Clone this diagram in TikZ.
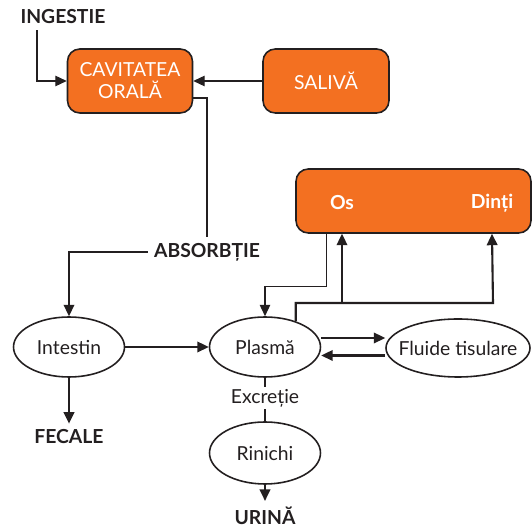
\documentclass[tikz,border=0pt]{standalone}
\usepackage{fontspec}
\setmainfont{Lato}
\usetikzlibrary{shapes.geometric,arrows.meta}
\definecolor{ink}{HTML}{231F20}
\definecolor{orangebox}{HTML}{F37021}
\tikzset{
	>={Triangle[length=6.5pt,width=6pt]},
	every node/.style={font=\fontsize{11}{12.5}\selectfont},
	obox/.style={draw=ink,line width=0.9pt,fill=orangebox,rounded corners=7pt,text=white,align=center,minimum width=2.5cm,minimum height=1.28cm},
	oval/.style={ellipse,draw=ink,line width=0.9pt,text=ink,minimum width=2.22cm,minimum height=1.2cm,inner sep=1pt},
	lbl/.style={text=ink,font=\fontsize{11}{12.5}\selectfont\bfseries},
	thinline/.style={draw=ink,line width=0.6pt},
	thickline/.style={draw=ink,line width=1.2pt}
}
\begin{document}
\begin{tikzpicture}
	\useasboundingbox (0,0) rectangle (10.64,10.62);
	\node[lbl] (ingestie) at (1.26,10.28) {INGESTIE};
	\node[obox] (cav) at (2.60,9.00) {CAVITATEA\\ORALĂ};
	\node[obox,minimum width=2.52cm] (saliva) at (6.52,9.00) {SALIVĂ};
	\node[lbl] (absorb) at (4.14,5.58) {ABSORBȚIE};
	\node[obox,minimum width=4.70cm] (mineral) at (8.27,6.60) {};
	\node[text=white,font=\fontsize{11}{12.5}\selectfont\bfseries] (os) at (6.84,6.56) {Os};
	\node[text=white,font=\fontsize{11}{12.5}\selectfont\bfseries] (dinti) at (9.84,6.56) {Dinți};
	\node[oval] (intestin) at (1.38,3.68) {Intestin};
	\node[oval] (plasma) at (5.30,3.68) {Plasmă};
	\node[oval,inner xsep=-5pt,minimum width=2.88cm,minimum height=1.16cm] (fluide) at (9.16,3.66) {Fluide tisulare};
	\node[text=ink,fill=white,inner sep=1pt] (excretie) at (5.30,2.66) {Excreție};
	\node[oval,minimum height=1.24cm] (rinichi) at (5.30,1.56) {Rinichi};
	\node[lbl] (fecale) at (1.38,1.88) {FECALE};
	\node[lbl] (urina) at (5.30,0.30) {URINĂ};
	\coordinate (bus) at (9.86,4.56);

	\draw[thinline,->] (0.74,0 |- ingestie.south) |- (cav.west);
	\draw[thinline,->] (saliva.west) -- (cav.east);
	\draw[thinline] ([yshift=-0.34cm]cav.east) -| (absorb.north);
	\draw[thickline,->] (absorb.west) -| (intestin.north);
	\draw[thinline,->] ([xshift=0.62cm]mineral.south west) |- ([yshift=0.6cm]plasma.north) -- (plasma.north);
	\draw[thickline,->] (plasma.40) |- (bus) -- (dinti |- mineral.south);
	\draw[thickline,->] (os |- bus) -- (os |- mineral.south);
	\draw[thickline,->] (intestin.east) -- (plasma.west);
	\draw[thickline,->] ([yshift=0.18cm]plasma.east) -- ([yshift=0.18cm]plasma.east -| fluide.west);
	\draw[thickline,->] ([yshift=-0.15cm]fluide.west) -- ([yshift=-0.15cm]fluide.west -| plasma.east);
	\draw[thinline] (plasma.south) -- (excretie.north);
	\draw[thinline] (excretie.south) -- (rinichi.north);
	\draw[thickline,->] (intestin.south) -- (fecale.north);
	\draw[thickline,->] (rinichi.south) -- (urina.north);
\end{tikzpicture}
\end{document}
